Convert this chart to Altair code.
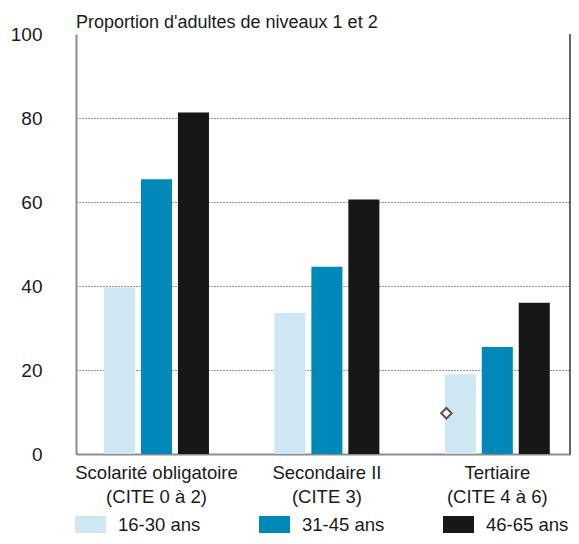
import altair as alt
import pandas as pd

title_text = "Proportion d'adultes de niveaux 1 et 2"
groups = ["Scolarité obligatoire\n(CITE 0 à 2)", "Secondaire II\n(CITE 3)", "Tertiaire\n(CITE 4 à 6)"]
ages = ["16-30 ans", "31-45 ans", "46-65 ans"]
v_16_30 = [39.7, 33.6, 19.0]
v_31_45 = [65.4, 44.6, 25.5]
v_46_65 = [81.3, 60.6, 36.0]
marker_group = ["Tertiaire\n(CITE 4 à 6)"]
marker_value = [9.7]
colors = ["#cfe7f2", "#0088b9", "#171717"]
y_ticks = [0, 20, 40, 60, 80, 100]

rows = []
for age, vals in zip(ages, [v_16_30, v_31_45, v_46_65]):
    for g, v in zip(groups, vals):
        rows.append({"group": g, "age": age, "value": v})
df = pd.DataFrame(rows)
mk = pd.DataFrame({"group": marker_group, "value": marker_value})
tt = pd.DataFrame({"t": [title_text]})

FONT = "Liberation Sans, Arial, sans-serif"
W, H = 495, 420

x_enc = alt.X(
    "group:N", sort=groups,
    scale=alt.Scale(paddingInner=0.384, paddingOuter=0.1444, align=0.569),
    axis=alt.Axis(title=None, labelAngle=0, labelExpr="split(datum.label, '\\n')",
                  labelFontSize=18.5, labelFont=FONT, labelColor="#1a1a1a",
                  labelPadding=9, labelLineHeight=24, ticks=False,
                  domainColor="#8c8c8c", domainWidth=2),
)
xo_enc = alt.XOffset("age:N", sort=ages, scale=alt.Scale(paddingInner=0.16))
y_enc = alt.Y(
    "value:Q", scale=alt.Scale(domain=[0, 100], nice=False),
    axis=alt.Axis(values=y_ticks, title=None, ticks=False, labelPadding=34,
                  labelFontSize=19, labelFont=FONT, labelColor="#1a1a1a",
                  domainColor="#8c8c8c", domainWidth=2,
                  gridColor="#333333", gridDash=[1, 2], gridWidth=1,
                  gridOpacity={"condition": {"test": "datum.value >= 100", "value": 0}, "value": 1}),
)

bars = alt.Chart(df).mark_bar().encode(
    x=x_enc, xOffset=xo_enc, y=y_enc,
    color=alt.Color("age:N", sort=ages, scale=alt.Scale(domain=ages, range=colors),
                    legend=alt.Legend(title=None, orient="none", legendX=-1, legendY=475,
                                      direction="horizontal", columns=3,
                                      symbolType="M-1,-0.55H1V0.55H-1Z", symbolSize=961,
                                      symbolStrokeWidth=0, labelFontSize=18.5, labelFont=FONT,
                                      labelColor="#1a1a1a", labelOffset=12,
                                      columnPadding=58, gridAlign="all", padding=0)),
)

marker = alt.Chart(mk).mark_point(shape="diamond", filled=False, fill="white",
                                  stroke="#555555", strokeWidth=2, size=110, opacity=1).encode(
    x=alt.X("group:N", sort=groups, bandPosition=0.015), y="value:Q"
)

frame = alt.Chart(pd.DataFrame({"a": [0]})).mark_rule(color="#333333", strokeWidth=1.5).encode(
    x=alt.value(W - 1), y=alt.value(0), y2=alt.value(H)
)

title = alt.Chart(tt).mark_text(align="left", baseline="alphabetic", fontSize=18, font=FONT,
                                color="#1a1a1a").encode(
    x=alt.value(0), y=alt.value(-6), text="t:N"
)

chart = alt.layer(bars, marker, frame, title).properties(
    width=W, height=H,
    autosize=alt.AutoSizeParams(type="none"),
    padding={"left": 68, "top": 26, "right": 0, "bottom": 82},
).configure_view(stroke=None)

chart.save("out.html", embed_options={"renderer": "svg", "actions": False})
